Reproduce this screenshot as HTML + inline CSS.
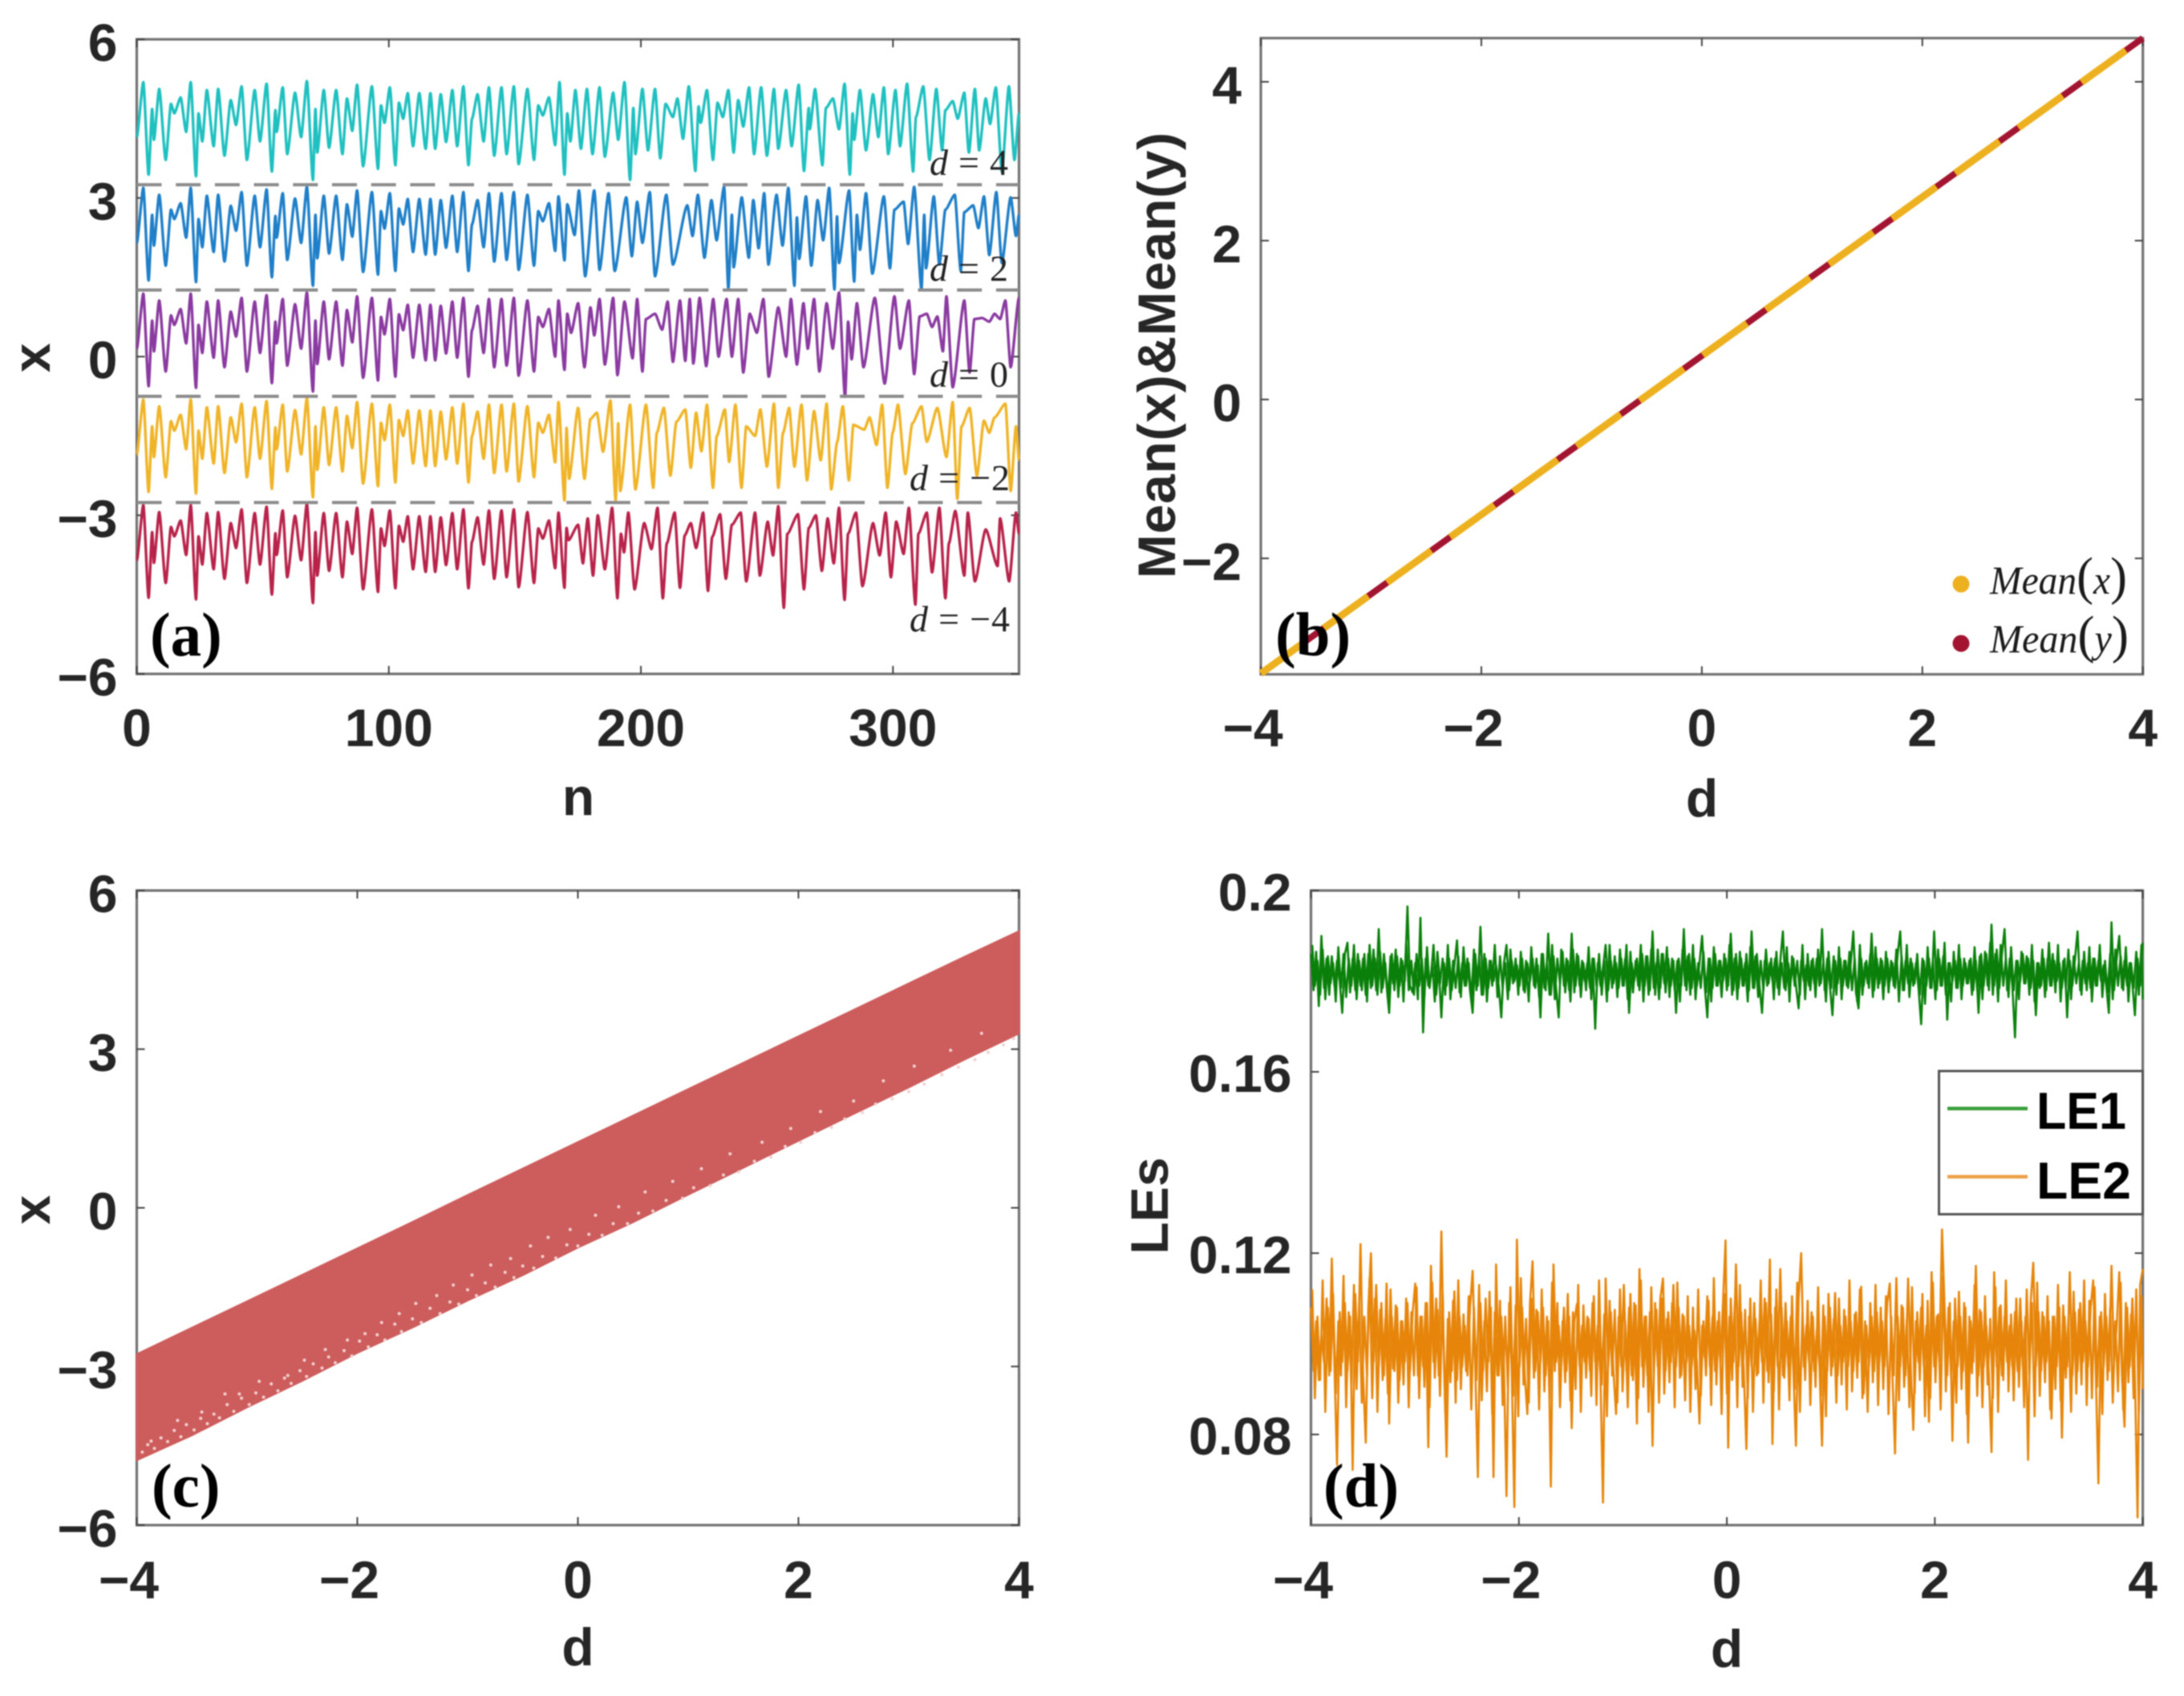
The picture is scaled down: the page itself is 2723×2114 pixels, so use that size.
<!DOCTYPE html>
<html lang="en">
<head>
<meta charset="utf-8">
<title>Four panel chart</title>
<style>
html,body{margin:0;padding:0;background:#fff;}
svg{display:block;filter:blur(0.8px);}
.tick{font-family:"Liberation Sans",Arial,sans-serif;font-weight:700;font-size:66px;fill:#262626;}
.plabel{font-family:"Liberation Serif","Times New Roman",serif;font-weight:700;font-size:77px;fill:#000;}
.dlabel{font-family:"Liberation Serif","Times New Roman",serif;font-size:46px;fill:#222;}
.lgd{font-family:"Liberation Serif","Times New Roman",serif;font-style:italic;font-size:50px;fill:#1a1a1a;}
.lgd2{font-family:"Liberation Sans",Arial,sans-serif;font-weight:700;font-size:65px;fill:#000;}
</style>
</head>
<body>
<svg id="fig" xmlns="http://www.w3.org/2000/svg" width="2723" height="2114" viewBox="0 0 2723 2114">
<rect width="2723" height="2114" fill="#fff"/>
<g id="axes"></g>
<g id="marks"></g>

<text class="plabel" x="187" y="817">(a)</text>
<text class="plabel" x="1590" y="817">(b)</text>
<text class="plabel" x="189" y="1878">(c)</text>
<text class="plabel" x="1650" y="1878">(d)</text>

<text class="dlabel" x="1159" y="218" textLength="98"><tspan font-style="italic">d</tspan> = 4</text>
<text class="dlabel" x="1159" y="350" textLength="98"><tspan font-style="italic">d</tspan> = 2</text>
<text class="dlabel" x="1159" y="482" textLength="98"><tspan font-style="italic">d</tspan> = 0</text>
<text class="dlabel" x="1134" y="611" textLength="125"><tspan font-style="italic">d</tspan> = −2</text>
<text class="dlabel" x="1134" y="787" textLength="125"><tspan font-style="italic">d</tspan> = −4</text>

<g>
<ellipse cx="2445" cy="728" rx="10.5" ry="10.5" fill="#edb120"/>
<ellipse cx="2445" cy="802" rx="10.5" ry="10.5" fill="#a2142f"/>
<text class="lgd" x="2481" y="740" textLength="171" lengthAdjust="spacingAndGlyphs">Mean<tspan font-style="normal" font-size="66" font-weight="200">(</tspan>x<tspan font-style="normal" font-size="66" font-weight="200">)</tspan></text>
<text class="lgd" x="2481" y="813" textLength="173" lengthAdjust="spacingAndGlyphs">Mean<tspan font-style="normal" font-size="66" font-weight="200">(</tspan>y<tspan font-style="normal" font-size="66" font-weight="200">)</tspan></text>
</g>

<g>
<rect x="2417.5" y="1335" width="254" height="178.5" fill="#fff" stroke="#555" stroke-width="3"/>
<line x1="2428" x2="2528" y1="1381.7" y2="1381.7" stroke="#3a9f3a" stroke-width="4.5"/>
<line x1="2428" x2="2528" y1="1466.7" y2="1466.7" stroke="#eda24a" stroke-width="4.5"/>
<text class="lgd2" x="2539" y="1407" textLength="112" lengthAdjust="spacingAndGlyphs">LE1</text>
<text class="lgd2" x="2539" y="1494" textLength="118" lengthAdjust="spacingAndGlyphs">LE2</text>
</g>
</svg>

<script>
// ---------- Panel (a): shared early part (d = 0 reference) and per-series late parts
const dOffsets = [4, 2, 0, -2, -4];
const earlyN = [0,2.6,4.7,6.1,6.8,8.9,11.5,13.6,14.9,17.4,19.6,21.4,23.5,24.5,26,27.8,30.5,32.3,34.8,37.3,39.4,41.6,43.7,46.8,48.9,51.5,53.6,55,55.5,57.9,59.7,62.8,65.2,67.5,69.9,70.9,71.6,74.2,76.3,79.1,81.6,83.4,85.5,87.4,89.8,93.3,95.7,96.9,98.3,100.4,102.6,104,105.7,107.5,109.6,112.1,114.6,116.5,118.4,120.6,122.7,125.2,127.1,129.6,131.6,133,135.2,137.6,139.7,141.8,144.7,146.7,149.6,151.5,155,157.6,159.3,161.1,163.5,166];
const earlyX = [0.15,1.19,-0.56,0.68,0.1,1.06,-0.28,0.78,0.6,0.9,0.25,1.19,-0.59,0.6,0.07,1.04,-0.02,1.06,-0.2,0.85,0.38,1.11,-0.28,1.04,0.07,1.16,-0.5,0.66,0.25,1.09,-0.17,0.99,0.15,1.21,-0.66,0.68,-0.14,1.04,-0.05,1.04,-0.17,0.88,0.27,1.14,-0.4,1.11,-0.45,0.75,0.42,1.09,-0.38,0.8,0.5,0.98,-0.02,0.98,-0.07,0.98,-0.07,0.96,0.06,1.04,-0.02,1.11,-0.38,0.5,0.96,0.07,1.09,-0.2,1.09,-0.17,1.11,-0.36,1.06,-0.28,0.75,0.56,0.9,0];
// late parts: alternating n, x
const lateD4 = [167.7,5.19,169.7,3.44,170.8,4.6,172,4.07,174,5.04,176.2,3.93,178.6,5.06,180.8,3.83,183.6,5.09,185.7,3.78,189,4.99,191,4.1,193.5,5.19,195.7,3.34,197,4.7,197.8,3.83,200.6,5.06,202.8,3.9,205.6,5.06,207.7,3.75,209.8,4.78,212.7,4.53,214.5,4.88,216.7,4.12,219,5.11,221.6,3.51,222.9,4.73,223.7,4.42,226.2,5.04,228.6,3.72,230.4,4.8,232.5,4.53,234.7,5.04,236.8,3.86,238.6,4.85,240.6,4.35,242.9,5.09,244.9,3.83,247.7,5.09,250,3.8,252.8,5.06,254.5,3.93,257.6,5.04,259.8,3.98,262.6,5.14,264.7,3.51,266.6,4.7,267,4.3,269.1,5.06,272,3.62,273.4,4.7,276.2,4.88,278.6,4.3,280.8,5.16,282.9,3.44,284,4.6,284.6,4.1,286.9,5.04,289.3,3.9,292.1,4.96,294.2,4.15,296.4,5.09,298.1,3.83,301,5.04,302.8,3.98,305.6,5.16,308,3.5,309.1,4.53,312,5.11,314.5,3.72,317.2,5.06,319.5,3.9,320.8,4.66,323.7,4.83,325.7,4.5,328.3,4.99,330.1,3.86,332.5,5.06,334.2,3.9,336.8,4.88,338.5,4.4,340.8,5.09,343.2,3.5,346,5.11,348.2,3.72,350,4.6];
const lateD2 = [167.3,3.03,169.7,1.82,170.8,2.88,173.7,2.3,175.4,3.14,177.9,1.52,181.5,3.14,183.6,1.64,187.2,3.09,189.6,1.62,194.2,3.01,196.4,1.9,198.5,2.93,200.6,2.15,203.5,3.11,205.6,1.52,210.1,3.06,212.7,1.74,218.4,2.86,220.5,2.28,222.6,3.06,225.2,1.87,228,2.96,230,2.2,233,3.21,234.7,1.29,236.1,2.68,236.8,1.69,240,3.01,242.8,1.87,244.6,2.96,246.7,2.05,248.9,3.09,250.6,1.74,253.8,3.06,256.2,2.1,258.5,3.19,260.9,1.34,261.9,2.63,262.8,1.85,265.5,3.03,267.6,1.72,270.1,2.96,272.3,2.2,274.7,3.19,276.8,1.27,277.8,2.65,278.6,1.77,282.6,3.14,284.6,1.42,285.7,2.68,286.9,2.02,289.3,3.09,291.8,1.57,296.4,3.03,298.8,1.67,300.6,2.78,304.2,2.93,306,2.13,308.4,3.21,311.3,1.27,312.4,2.68,313.1,1.67,316.2,3.03,318.4,1.74,320.8,2.78,324.5,3.06,326.9,1.62,328.3,2.73,331.8,2.86,333.9,2.43,336.1,3.03,338.2,1.92,341,3.11,343.2,1.77,346.7,3.01,348.8,2.28,350,2.68];
const lateD0 = [167.3,1.06,169.7,-0.25,170.8,0.81,172.3,0.45,175.1,1.01,177.6,-0.2,180,0.93,181.5,0.4,183.6,1.09,185.7,-0.15,189,1.11,190.7,-0.35,193.5,1.04,196.7,-0.03,198.5,1.09,200.6,-0.28,202,0.71,205.6,0.81,208.4,0.51,210.6,1.04,212.7,-0.1,215.5,1.06,217.6,-0.08,219.4,1.09,220.8,-0.13,223.3,1.11,225.9,-0.18,228.7,1.09,230.8,0,234,1.09,236.1,0,238.6,1.09,240.6,-0.3,243.2,0.81,246,0.45,248.6,1.09,250.7,-0.38,254.5,0.93,257.6,0,259.5,1.09,261.9,-0.15,264.5,1.01,266.2,0.15,268.7,1.09,270.8,-0.28,273.7,1.01,276.1,0.15,278.6,1.21,281,-0.76,282.2,0.66,283.6,-0.05,285.7,1.01,288.3,-0.2,292.8,1.11,296.7,-0.51,300.6,1.14,302.8,0.15,306.3,1.06,308.4,-0.33,310.6,0.76,313.4,0.81,315.5,0.56,317.6,0.76,319.8,0.1,321.2,1.14,323.7,-0.58,328.3,1.06,330.4,-0.3,332.3,0.71,335.4,0.73,338.2,0.66,340.3,0.81,342.5,0.71,344.6,1.06,346.7,-0.2,350,1.11];
const lateDm2 = [167.3,-0.86,169.7,-2.72,170.5,-1.35,171.5,-2.31,175.1,-0.97,177.6,-2.31,180,-1.18,182.5,-1.06,185,-1.8,187.9,-0.83,190,-2.72,191,-1.26,191.8,-2.54,195.7,-0.91,197.8,-2.51,202,-0.91,204.9,-2.48,206.3,-1.44,209.1,-0.97,211.7,-2.25,214.1,-1.23,217.6,-1,219.8,-2.1,221.9,-1.06,224,-1.79,226.2,-0.91,228.6,-2.48,230.1,-1.5,233.3,-1,235,-1.99,237.5,-0.91,239.9,-2.48,241.8,-1.32,245.3,-1.5,247.4,-1,250,-2.08,252.8,-0.89,254.5,-2.48,256.4,-1.44,258.8,-0.97,260.9,-2.08,263.7,-0.91,265.9,-2.34,268.7,-1.03,271.3,-1.96,273.7,-0.89,275.5,-2.51,277.9,-1.61,280.1,-0.94,282.5,-2.34,284.3,-1.29,288.6,-1.38,290.7,-1.15,293.5,-1.67,295.7,-0.91,297.8,-2.48,299.9,-1.44,302,-0.91,304.9,-2.22,307.7,-1.26,311.3,-0.94,313.4,-1.61,317.6,-0.97,321.2,-1.9,323.7,-0.86,325.5,-2.69,327.2,-1.32,330.4,-0.97,333.3,-2.25,336.1,-1.21,338.2,-1.44,340.3,-1.15,344.6,-0.89,346.7,-2.54,348.8,-1.32,350,-1.96];
const lateDm4 = [167.3,-2.95,169.7,-4.37,170.5,-3.24,171.3,-3.47,175.1,-3.18,177,-3.91,178.9,-3.06,181,-4.14,182.9,-3,185.7,-4.02,188.6,-2.86,190.7,-4.57,192.1,-3.35,193.3,-3.7,195,-2.95,197.5,-4.4,201.3,-3.15,204.2,-3.64,206.6,-2.86,208.7,-4.57,210.3,-3.53,213.4,-2.95,215.5,-4.37,217.4,-3.38,219.8,-3.15,221.9,-3.62,224.7,-2.95,226.6,-4.43,228.3,-3.41,231.4,-2.98,233.7,-4.2,236.1,-3.18,239.6,-2.95,241.8,-4.25,245.3,-2.95,247.2,-4.14,250.3,-3.12,252.4,-3.76,254.5,-2.83,256.7,-4.75,258.1,-3.35,262.3,-2.98,264.7,-4.4,266.6,-3.24,269.4,-3,271.8,-4.05,274.1,-3.06,276.5,-3.91,278.6,-2.86,280.8,-4.6,282.2,-3.35,285.3,-2.95,287.9,-4.34,292.1,-3.15,294.7,-3.76,297.1,-2.95,299.2,-4.17,301.3,-3.12,304.2,-3.73,306.3,-2.86,308.9,-4.69,310.1,-3.35,313.4,-2.95,315.5,-4.08,318.4,-2.86,320.8,-4.57,322.2,-3.53,324.7,-2.92,328.3,-4.14,329.7,-2.95,332.5,-4.25,336.8,-3.27,341.5,-3.96,342.5,-3.06,346.1,-4.25,348.8,-2.95,350,-3.35];
const dashLevels = [3.25, 1.26, -0.75, -2.76];
const seriesColors = ['#20c0c0', '#1f7fc8', '#8a3aa0', '#f0b428', '#b8234a'];

// ---------- Panel (b)
const meanD = [-4, -3, -2, -1, 0, 1, 2, 3, 4];
const meanXValues = [-3.45, -2.45, -1.45, -0.45, 0.55, 1.55, 2.55, 3.55, 4.55];
const meanYValues = [-3.45, -2.45, -1.45, -0.45, 0.55, 1.55, 2.55, 3.55, 4.55];

// ---------- Panel (c)
const bandD = [-4,-3.5,-3,-2.5,-2,-1.5,-1,-0.5,0,0.5,1,1.5,2,2.5,3,3.5,4];
const bandUpper = [-2.77,-2.27,-1.77,-1.27,-0.77,-0.27,0.24,0.74,1.24,1.74,2.24,2.74,3.24,3.74,4.24,4.74,5.23];
const bandLower = [-4.77,-4.3,-3.77,-3.27,-2.74,-2.26,-1.75,-1.27,-0.75,-0.27,0.25,0.76,1.27,1.78,2.28,2.8,3.3];
const speckD = [-3.95,-3.9,-3.84,-3.78,-3.72,-3.66,-3.6,-3.55,-3.48,-3.42,-3.36,-3.3,-3.25,-3.18,-3.12,-3.05,-2.98,-2.92,-2.85,-2.78,-2.72,-2.66,-2.6,-2.52,-2.46,-2.4,-2.32,-2.26,-2.2,-2.12,-2.05,-1.98,-1.9,-1.82,-1.75,-1.66,-1.6,-1.5,-1.42,-1.34,-1.25,-1.16,-1.08,-1,-0.92,-0.84,-0.75,-0.66,-0.58,-0.5,-0.4,-0.32,-0.2,-0.1,0,0.1,0.22,0.32,0.45,0.55,0.68,0.8,0.95,1.05,1.2,1.32,1.46,1.6,1.75,1.88,2.02,2.15,2.3,2.42,2.58,2.7,2.85,3,3.14,3.3,3.45,3.6,3.72,3.86,3.95,
-3.87,-3.63,-3.41,-3.2,-3.07,-2.89,-2.63,-2.48,-2.29,-2.09,-1.93,-1.78,-1.62,-1.47,-1.28,-1.13,-0.96,-0.79,-0.61,-0.43,-0.27,-0.07,0.16,0.37,0.61,0.86,1.12,1.38,1.67,1.93,2.2,2.5,2.77,3.05,3.38,3.66];
const speckX = [-4.62,-4.48,-4.55,-4.35,-4.42,-4.21,-4.33,-4.1,-4.2,-3.98,-4.08,-3.9,-3.97,-3.72,-3.85,-3.6,-3.72,-3.5,-3.58,-3.33,-3.46,-3.22,-3.32,-3.08,-3.19,-2.95,-3.03,-2.82,-2.93,-2.7,-2.8,-2.52,-2.63,-2.4,-2.5,-2.2,-2.34,-2.1,-2.17,-1.9,-2,-1.78,-1.82,-1.55,-1.66,-1.42,-1.5,-1.22,-1.32,-1.1,-1.14,-0.92,-0.95,-0.7,-0.72,-0.5,-0.52,-0.3,-0.3,-0.1,-0.06,0.14,0.18,0.38,0.42,0.62,0.68,0.88,0.96,1.16,1.24,1.42,1.52,1.68,1.8,1.96,2.06,2.2,2.34,2.52,2.66,2.8,2.94,3.08,3.2,
-4.41,-4.02,-3.86,-3.52,-3.52,-3.28,-3.17,-2.88,-2.68,-2.5,-2.38,-2.17,-2.0,-1.81,-1.66,-1.46,-1.27,-1.08,-0.96,-0.72,-0.56,-0.41,-0.14,0.02,0.3,0.5,0.74,1.02,1.24,1.5,1.82,2.02,2.4,2.68,2.98,3.3];

// ---------- Panel (d), values in units of 1e-4
const le1 = [1860,1780,1865,1745,1900,1785,1850,1770,1855,1790,1845,1800,1730,1860,1885,1775,1850,1780,1860,1790,
1850,1770,1860,1785,1870,1780,1915,1775,1860,1790,1730,1860,1780,1855,1790,1845,1800,1965,1790,1775,
1840,1760,1940,1687,1850,1790,1810,1880,1770,1830,1720,1840,1790,1850,1780,1835,1890,1775,1840,1790,
1850,1780,1730,1860,1790,1920,1770,1850,1785,1845,1800,1835,1790,1720,1840,1880,1780,1845,1800,1835,
1790,1850,1775,1840,1800,1850,1785,1835,1720,1860,1780,1905,1770,1855,1785,1720,1870,1790,1850,1780,
1905,1775,1860,1790,1845,1800,1840,1785,1850,1695,1840,1790,1830,1880,1780,1845,1795,1840,1785,1850,
1790,1880,1730,1840,1800,1850,1780,1860,1790,1855,1780,1910,1770,1870,1785,1860,1775,1850,1790,1845,
1730,1850,1790,1915,1780,1860,1785,1850,1790,1840,1900,1790,1720,1850,1785,1860,1790,1845,1800,1850,
1790,1905,1780,1860,1785,1850,1790,1860,1780,1910,1785,1860,1790,1730,1845,1790,1840,1800,1850,1785,
1845,1910,1780,1840,1800,1850,1790,1740,1845,1800,1835,1790,1845,1795,1850,1790,1915,1780,1850,1790,
1725,1845,1795,1850,1790,1845,1785,1840,1910,1775,1740,1850,1790,1845,1785,1905,1780,1850,1795,1845,
1790,1850,1800,1840,1785,1860,1910,1780,1845,1795,1850,1790,1840,1785,1705,1845,1790,1850,1785,1910,
1780,1850,1790,1885,1715,1840,1800,1845,1785,1850,1790,1840,1795,1850,1780,1845,1730,1860,1790,1860,
1780,1925,1790,1870,1785,1860,1915,1780,1850,1790,1676,1845,1800,1860,1795,1850,1785,1845,1725,1840,
1790,1850,1780,1885,1790,1845,1800,1840,1785,1850,1720,1845,1790,1850,1910,1780,1845,1795,1840,1785,
1850,1790,1845,1800,1835,1790,1730,1930,1780,1850,1900,1785,1845,1790,1840,1795,1725,1850,1790,1885];
const le1Second = [1880,1790,1845,1770,1870,1760,1855,1795,1840,1755,1875,1785,1860,1765,1850,1790,1880,1760,1845,1780,
1860,1755,1880,1790,1850,1770,1865,1785,1840,1760,1855,1795,1870,1765,1850,1755,1885,1780,1845,1770,
1860,1790,1850,1765,1875,1785,1840,1755,1865,1795,1850,1770,1880,1760,1845,1785,1855,1765,1875,1790,
1840,1760,1870,1780,1850,1770,1860,1755,1845,1790,1880,1765,1855,1785,1840,1760,1870,1795,1850,1770,
1865,1780,1845,1755,1875,1790,1850,1765,1860,1785,1840,1770,1880,1760,1850,1795,1865,1775,1845,1755,
1870,1790,1855,1765,1840,1780,1875,1760,1850,1790,1860,1770,1845,1755,1880,1785,1855,1765,1870,1790,
1850,1760,1865,1775,1845,1790,1880,1755,1855,1770,1870,1785,1840,1760,1860,1795,1875,1765,1850,1780,
1845,1755,1870,1790,1855,1770,1880,1760,1840,1785,1865,1775,1850,1755,1875,1790,1845,1765,1860,1780,
1880,1770,1850,1760,1865,1790,1840,1755,1875,1785,1855,1765,1845,1780,1870,1795,1850,1760,1865,1770,
1840,1785,1875,1755,1855,1790,1845,1770,1880,1760,1860,1780,1850,1765,1870,1795,1840,1755,1865,1785,
1855,1770,1875,1760,1845,1790,1865,1780,1850,1755,1880,1770,1840,1795,1860,1765,1875,1785,1850,1760,
1865,1775,1845,1790,1870,1755,1855,1780,1880,1765,1840,1795,1860,1770,1850,1750,1875,1785,1845,1760,
1870,1790,1855,1770,1840,1755,1865,1785,1880,1760,1850,1795,1845,1770,1875,1780,1855,1760,1865,1790,
1885,1770,1860,1755,1880,1790,1850,1765,1875,1780,1845,1760,1865,1795,1855,1770,1880,1755,1840,1785,
1870,1765,1850,1790,1860,1775,1880,1755,1845,1785,1870,1760,1855,1795,1840,1770,1865,1780,1875,1755,
1850,1790,1880,1765,1845,1775,1860,1760,1870,1790,1855,1780,1875,1755,1840,1785,1865,1770,1880,1760];
const le2 = [1080,940,1050,920,1020,960,1100,930,1188,950,733,1070,960,1090,940,1060,722,1110,960,1220,
930,782,1080,1200,960,1130,950,1090,930,1133,824,1060,940,1080,920,1050,960,1090,940,1070,
1133,930,1060,950,1090,772,1172,960,1100,930,1248,960,751,1070,940,1116,920,1060,950,1040,
930,1080,1161,950,706,1090,940,1100,960,1080,706,1175,930,1060,950,664,1090,940,640,1230,
950,1080,930,845,1090,1182,940,1070,960,1080,930,1050,685,1175,960,1040,950,1080,940,1060,
814,1050,1088,950,1040,960,1060,940,1090,960,1040,930,650,1144,950,1070,940,845,1060,950,
1130,940,1080,930,1090,824,1165,950,1060,930,1070,775,1090,950,1100,1144,940,1070,960,1130,
950,1080,930,1060,960,1040,950,1030,960,824,1040,970,1105,950,1060,940,1050,960,1090,1228,
771,1100,960,1175,950,1070,940,768,1060,950,1090,930,1050,960,1100,940,1186,779,1080,950,
1165,930,1090,950,1060,940,775,1100,1200,950,1040,960,1070,940,1030,950,775,1060,940,1080,
950,1112,930,1040,960,1060,950,1050,940,1070,960,1126,890,1040,950,1060,940,1070,960,1050,
950,1090,1133,930,758,1060,950,1080,930,1144,950,810,1050,960,1080,950,1040,828,1158,950,
1060,960,1252,1080,930,1090,786,1100,950,1060,940,1080,782,1050,960,1172,930,1070,950,1040,
930,761,1158,950,1080,930,1060,960,1040,950,1070,940,1100,950,1060,744,1090,1179,950,1070,
940,1060,960,1050,835,1060,950,1080,793,1060,950,1158,930,1070,940,1090,960,1050,950,1080,
1140,930,692,1070,950,1060,940,1172,960,1040,1158,930,817,1080,950,1100,930,617,1130,1165];
const le2Second = [1120,880,1060,920,1140,850,1080,940,1110,890,1050,930,1150,860,1070,910,1130,900,1090,870,
1060,930,1145,880,1100,850,1075,920,1055,890,1120,945,1085,870,1050,910,1100,860,1070,930,
1125,880,1060,905,1090,860,1135,925,1075,885,1110,850,1055,915,1095,870,1140,900,1065,940,
1105,855,1080,920,1130,875,1050,895,1115,845,1070,930,1095,865,1060,905,1125,885,1085,840,
1145,910,1055,870,1100,925,1075,855,1120,895,1060,880,1135,940,1090,860,1050,915,1110,875,
1070,900,1130,850,1085,925,1055,885,1105,865,1140,910,1065,840,1095,930,1075,870,1120,895,
1050,860,1110,920,1085,880,1140,905,1060,850,1125,935,1075,870,1100,890,1055,915,1090,860,
1135,925,1065,875,1105,850,1080,900,1120,885,1050,930,1095,865,1145,910,1070,845,1110,890,
1060,920,1085,860,1130,905,1075,880,1100,850,1055,935,1140,870,1090,915,1065,895,1120,855,
1080,925,1050,875,1105,900,1135,850,1070,920,1095,865,1060,905,1125,885,1085,840,1110,930,
1055,870,1100,910,1075,855,1140,895,1065,925,1120,880,1050,850,1090,915,1130,865,1080,900,
1105,845,1060,930,1145,875,1085,905,1055,860,1125,890,1070,920,1110,840,1095,880,1135,915,
1065,855,1150,895,1080,925,1050,870,1115,900,1090,845,1060,935,1130,885,1075,860,1105,910,
1055,880,1125,850,1085,920,1140,895,1065,875,1100,905,1050,860,1120,930,1090,840,1135,885,
1070,915,1105,855,1060,900,1130,875,1085,925,1055,850,1115,890,1075,910,1140,865,1095,880,
1125,905,1060,845,1110,920,1080,870,1050,895,1135,855,1090,915,1065,880,1120,850,1105,900];

// ---------- Axis ticks and tick labels
const xTicksA = [0, 100, 200, 300];
const xTickLabelsA = ['0', '100', '200', '300'];
const yTicksAC = [-6, -3, 0, 3, 6];
const yTickLabelsAC = ['−6', '−3', '0', '3', '6'];
const xTicksD = [-4, -2, 0, 2, 4];
const xTickLabelsD = ['−4', '−2', '0', '2', '4'];
const yTicksB = [-2, 0, 2, 4];
const yTickLabelsB = ['−2', '0', '2', '4'];
const yTicksLE = [0.08, 0.12, 0.16, 0.2];
const yTickLabelsLE = ['0.08', '0.12', '0.16', '0.2'];

const NS = 'http://www.w3.org/2000/svg';
const axesLayer = document.getElementById('axes');
const marksLayer = document.getElementById('marks');

function mk(tag, attrs, parent) {
  const el = document.createElementNS(NS, tag);
  for (const k in attrs) el.setAttribute(k, attrs[k]);
  parent.appendChild(el);
  return el;
}
function scale(d0, d1, r0, r1) {
  return v => r0 + (v - d0) / (d1 - d0) * (r1 - r0);
}

function drawAxes(p) {
  const g = mk('g', {}, axesLayer);
  
  
  const frame = mk('rect', {x: p.l, y: p.t, width: p.r - p.l, height: p.b - p.t, fill: 'none', stroke: '#737373', 'stroke-width': 3.2}, g);
  
  
  p.xTicks.forEach((v, i) => {
    const x = p.sx(v);
    [[p.t, p.t + 10], [p.b, p.b - 10]].forEach(pair => {
      const tk = mk('line', {x1: x, x2: x, y1: pair[0], y2: pair[1], stroke: '#444', 'stroke-width': 2}, g);
      
      
    });
    const neg = v < 0 ? -10 : 0;
    const t = mk('text', {class: 'tick', x: x + neg, y: p.xLabelY, 'text-anchor': 'middle'}, g);
    t.textContent = p.xLabels[i];
    
    
  });
  p.yTicks.forEach((v, i) => {
    const y = p.sy(v);
    [[p.l, p.l + 10], [p.r, p.r - 10]].forEach(pair => {
      const tk = mk('line', {x1: pair[0], x2: pair[1], y1: y, y2: y, stroke: '#444', 'stroke-width': 2}, g);
      
      
    });
    const t = mk('text', {class: 'tick', x: p.l - 24, y: y + p.yLabelDy, 'text-anchor': 'end'}, g);
    t.textContent = p.yLabels[i];
    
    
  });
  const xt = mk('text', {class: 'tick', x: p.xTitleX, y: p.xTitleY, 'text-anchor': 'middle'}, g);
  xt.textContent = p.xTitle;
  
  
  const yAttrs = {class: 'tick', transform: 'translate(' + p.yTitleX + ',' + p.yTitleY + ') rotate(-90)', 'text-anchor': 'middle'};
  if (p.yTitleLen) yAttrs.textLength = p.yTitleLen;
  const yt = mk('text', yAttrs, g);
  yt.textContent = p.yTitle;
  
  
}

// Panel geometry
const pa = {name: 'panel-a', l: 170.5, r: 1270.5, t: 49, b: 840,
  xTicks: xTicksA, xLabels: xTickLabelsA, yTicks: yTicksAC, yLabels: yTickLabelsAC,
  xLabelY: 930, yLabelDy: 27, xTitle: 'n', xTitleX: 721, xTitleY: 1016, yTitle: 'x', yTitleX: 62, yTitleY: 446};
pa.sx = scale(0, 350, pa.l, pa.r);
pa.sy = scale(-6, 6, pa.b, pa.t);

const pb = {name: 'panel-b', l: 1572, r: 2671.7, t: 47.5, b: 840.5,
  xTicks: xTicksD, xLabels: xTickLabelsD, yTicks: yTicksB, yLabels: yTickLabelsB,
  xLabelY: 930, yLabelDy: 27, xTitle: 'd', xTitleX: 2122, xTitleY: 1018, yTitle: 'Mean(x)&Mean(y)', yTitleX: 1465, yTitleY: 443, yTitleLen: 556};
pb.sx = scale(-4, 4, pb.l, pb.r);
pb.sy = scale(-3.46, 4.55, pb.b, pb.t);

const pc = {name: 'panel-c', l: 170.5, r: 1270.5, t: 1110, b: 1901,
  xTicks: xTicksD, xLabels: xTickLabelsD, yTicks: yTicksAC, yLabels: yTickLabelsAC,
  xLabelY: 1992, yLabelDy: 27, xTitle: 'd', xTitleX: 720.5, xTitleY: 2076, yTitle: 'x', yTitleX: 62, yTitleY: 1508};
pc.sx = scale(-4, 4, pc.l, pc.r);
pc.sy = scale(-6, 6, pc.b, pc.t);

const pd = {name: 'panel-d', l: 1634.5, r: 2671.6, t: 1110, b: 1901,
  xTicks: xTicksD, xLabels: xTickLabelsD, yTicks: yTicksLE, yLabels: yTickLabelsLE,
  xLabelY: 1992, yLabelDy: 25, xTitle: 'd', xTitleX: 2153, xTitleY: 2078, yTitle: 'LEs', yTitleX: 1456, yTitleY: 1503};
pd.sx = scale(-4, 4, pd.l, pd.r);
pd.sy = scale(0.06, 0.2, pd.b, pd.t);

[pa, pb, pc, pd].forEach(drawAxes);

// Panel (a): lightly rounded path through the turning points
function smoothPath(pts) {
  let s = 'M' + pts[0][0].toFixed(1) + ' ' + pts[0][1].toFixed(1);
  for (let i = 1; i < pts.length; i++) {
    const a = pts[i - 1], b = pts[i], o = (b[0] - a[0]) * 0.22;
    s += 'C' + (a[0] + o).toFixed(1) + ' ' + a[1].toFixed(1) + ' ' + (b[0] - o).toFixed(1) + ' ' + b[1].toFixed(1) + ' ' + b[0].toFixed(1) + ' ' + b[1].toFixed(1);
  }
  return s;
}
const lateSeries = [lateD4, lateD2, lateD0, lateDm2, lateDm4];
dOffsets.forEach((off, k) => {
  const pts = [];
  earlyN.forEach((n, i) => pts.push([pa.sx(n), pa.sy(earlyX[i] + off)]));
  const late = lateSeries[k];
  for (let i = 0; i < late.length; i += 2) pts.push([pa.sx(late[i]), pa.sy(late[i + 1])]);
  const path = mk('path', {d: smoothPath(pts), fill: 'none', stroke: seriesColors[k], 'stroke-width': 3.4, 'stroke-linejoin': 'round'}, marksLayer);
  
  
});
dashLevels.forEach(v => {
  const ln = mk('line', {x1: pa.l, x2: pa.r, y1: pa.sy(v), y2: pa.sy(v), stroke: '#8c8c8c', 'stroke-width': 4, 'stroke-dasharray': '31 17.7'}, marksLayer);
  
  
});

// Panel (b)
function polyPts(xs, ys, sx, sy) {
  return xs.map((x, i) => sx(x).toFixed(1) + ',' + sy(ys[i]).toFixed(1)).join(' ');
}
const lineY = mk('polyline', {points: polyPts(meanD, meanYValues, pb.sx, pb.sy), fill: 'none', stroke: '#a2142f', 'stroke-width': 8}, marksLayer);


const lineX = mk('polyline', {points: polyPts(meanD, meanXValues, pb.sx, pb.sy), fill: 'none', stroke: '#edb120', 'stroke-width': 9, 'stroke-dasharray': '68 29'}, marksLayer);



// Panel (c)
const bandPts = bandD.map((d, i) => pc.sx(d).toFixed(1) + ',' + pc.sy(bandUpper[i]).toFixed(1))
  .concat(bandD.slice().reverse().map((d, i) => pc.sx(d).toFixed(1) + ',' + pc.sy(bandLower[bandD.length - 1 - i]).toFixed(1)));
const band = mk('polygon', {points: bandPts.join(' '), fill: '#cd5c5c', stroke: '#cd5c5c', 'stroke-width': 2.5}, marksLayer);


speckD.forEach((d, i) => {
  const c = mk('circle', {cx: pc.sx(d), cy: pc.sy(speckX[i]), r: 2, fill: '#f3d0d0'}, marksLayer);
  
  
});

// Panel (d): two interleaved traces sampled half a step apart
function lePoints(arr, shift) {
  const step = 8 / (arr.length - 1);
  return arr.map((v, i) => pd.sx(Math.min(4, -4 + step * (i + shift))).toFixed(1) + ',' + pd.sy(v / 10000).toFixed(1)).join(' ');
}
const le1Back = mk('polyline', {points: lePoints(le1Second, 0.5), fill: 'none', stroke: '#0a800a', 'stroke-width': 2.6, 'stroke-linejoin': 'round'}, marksLayer);


const le1Line = mk('polyline', {points: lePoints(le1, 0), fill: 'none', stroke: '#0a800a', 'stroke-width': 2.6, 'stroke-linejoin': 'round'}, marksLayer);


const le2Back = mk('polyline', {points: lePoints(le2Second, 0.5), fill: 'none', stroke: '#e6850a', 'stroke-width': 2.6, 'stroke-linejoin': 'round'}, marksLayer);


const le2Line = mk('polyline', {points: lePoints(le2, 0), fill: 'none', stroke: '#e6850a', 'stroke-width': 2.6, 'stroke-linejoin': 'round'}, marksLayer);


</script>
</body>
</html>
